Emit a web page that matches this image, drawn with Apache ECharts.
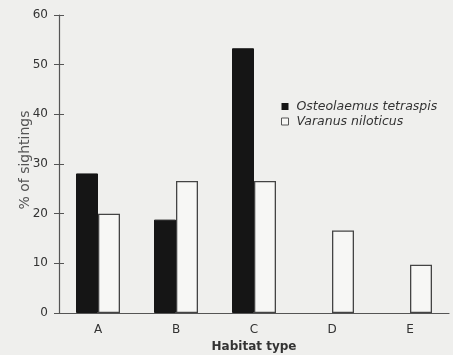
<!DOCTYPE html>
<html>
<head>
<meta charset="utf-8">
<script src="https://cdn.jsdelivr.net/npm/echarts@6/dist/echarts.min.js"></script>
<style>html,body{margin:0;padding:0;background:#efefed;}#c{width:453px;height:355px;}</style>
</head>
<body>
<div id="c"></div>
<script>
const categories = ['A', 'B', 'C', 'D', 'E'];
const osteolaemus = [28.1, 18.8, 53.3, null, null];
const varanus = [20, 26.6, 26.6, 16.6, 9.7];
const yTicks = [0, 10, 20, 30, 40, 50, 60];

const chart = echarts.init(document.getElementById('c'), null, {renderer: 'canvas'});
const txt = '#333';
const line = '#555';
const font = 'DejaVu Sans';
chart.setOption({
  backgroundColor: '#efefed',
  animation: false,
  textStyle: {fontFamily: font},
  grid: {left: 59, right: 4, top: 15, bottom: 42, outerBoundsMode: 'none', containLabel: false},
  legend: {
    orient: 'vertical', left: 276, top: 95, itemWidth: 7, itemHeight: 7, itemGap: 2,
    textStyle: {fontStyle: 'italic', fontSize: 12.5, color: '#333', fontFamily: font, padding: [0,0,0,3]},
    data: [
      {name: 'Osteolaemus tetraspis', icon: 'rect', itemStyle: {color: '#151515', borderWidth: 0}},
      {name: 'Varanus niloticus', icon: 'rect', itemStyle: {color: '#f7f7f5', borderColor: '#555', borderWidth: 1}}
    ]
  },
  xAxis: [{
    type: 'category', data: categories,
    name: 'Habitat type', nameLocation: 'middle', nameGap: 28, nameMoveOverlap: false,
    nameTextStyle: {fontWeight: 'bold', fontSize: 12, color: '#333', fontFamily: font},
    axisLine: {lineStyle: {color: line, width: 1.2}},
    axisTick: {length: 6, lineStyle: {color: line}},
    axisLabel: {color: txt, fontSize: 12, margin: 11}
  }, {
    type: 'category', data: categories, position: 'bottom',
    axisLine: {show: false},
    axisTick: {inside: true, length: 3, lineStyle: {color: line}},
    axisLabel: {show: false}
  }],
  yAxis: [{
    type: 'value', min: 0, max: 60, interval: 10,
    name: '% of sightings', nameLocation: 'middle', nameGap: 27, nameRotate: 90, nameMoveOverlap: false,
    nameTextStyle: {fontSize: 14, color: '#555', fontFamily: font, padding: [0, 0, 0, 8]},
    axisLine: {show: true, lineStyle: {color: line, width: 1.2}},
    axisTick: {show: true, length: 5, lineStyle: {color: line}},
    axisLabel: {color: txt, fontSize: 12, margin: 11, formatter: v => yTicks.includes(v) ? String(v) : ''},
    splitLine: {show: false}
  }, {
    type: 'value', min: 0, max: 60, interval: 10, position: 'left',
    axisLine: {show: false},
    axisTick: {show: true, inside: true, length: 5, lineStyle: {color: line}},
    axisLabel: {show: false}, splitLine: {show: false}
  }],
  series: [
    {name: 'Osteolaemus tetraspis', type: 'bar', data: osteolaemus, barWidth: 22, barGap: '0%',
     itemStyle: {color: '#151515', borderColor: '#151515', borderWidth: 1}},
    {name: 'Varanus niloticus', type: 'bar', data: varanus, barWidth: 22, barGap: '0%',
     itemStyle: {color: '#f7f7f5', borderColor: '#444', borderWidth: 1.3}}
  ]
});
</script>
</body>
</html>
